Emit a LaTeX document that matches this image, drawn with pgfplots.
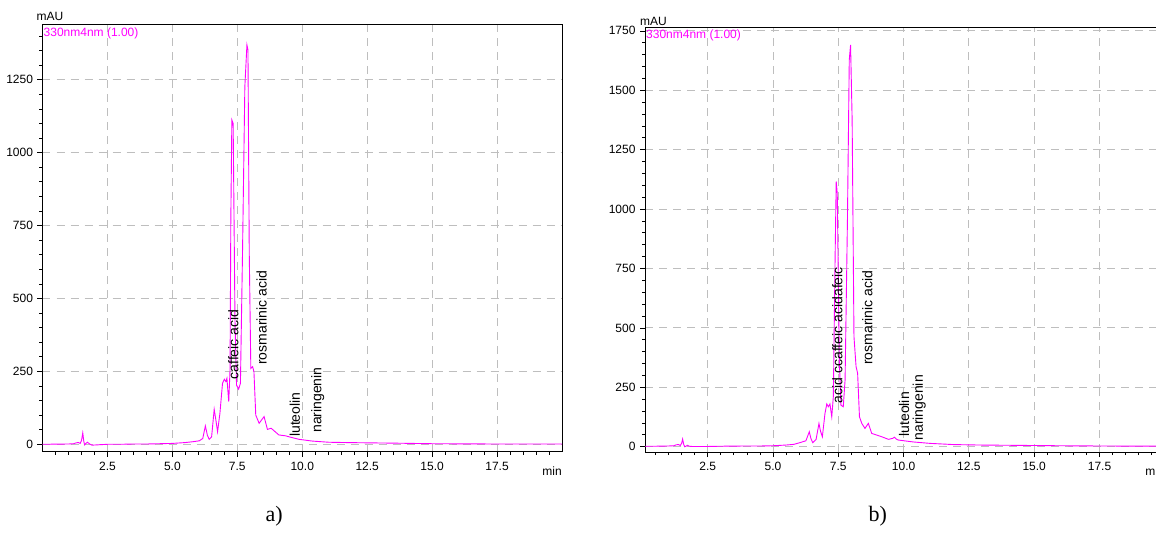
\documentclass[border=0pt]{standalone}
\usepackage{fontspec}
\setmainfont{Liberation Sans}
\newfontfamily\seriffont{Liberation Serif}
\usepackage{pgfplots}
\pgfplotsset{compat=1.18}

\definecolor{trace}{HTML}{FF00FF}
\definecolor{gridgray}{HTML}{BEBEBE}

\pgfplotsset{
  chrom/.style={
    scale only axis,
    clip=false,
    xmax=20,
    axis line style={black, line width=0.9pt},
    xtick={2.5,5,...,17.5},
    minor xtick={0.5,1,...,19.5},
    tick align=outside,
    major tick length=5pt,
    minor tick length=3pt,
    tick style={black, line width=0.7pt},
    xtick pos=bottom,
    ytick pos=left,
    xmajorgrids=true,
    ymajorgrids=true,
    major grid style={gridgray, line width=0.9pt, dash pattern=on 8pt off 6pt},
    ticklabel style={font=\fontsize{12}{12}\selectfont},
    /pgf/number format/assume math mode=true,
    /pgf/number format/1000 sep={},
    xticklabel style={yshift=-2pt, /pgf/number format/fixed,
      /pgf/number format/fixed zerofill, /pgf/number format/precision=1},
    yticklabel style={xshift=-1pt},
  },
}
\tikzset{annot/.style={rotate=90, anchor=west, inner sep=0pt, font=\fontsize{14}{14}\selectfont}}

\begin{document}
\begin{tikzpicture}[x=1pt,y=1pt]
\path[use as bounding box] (0,0) rectangle (1156,552);

% a) ------------------------------------------------------------
\begin{axis}[chrom,
  at={(42.5pt,100.3pt)}, anchor=south west,
  width=519.5pt, height=427.4pt,
  xmin=0, ymin=-25.4, ymax=1440,
  ytick={0,250,...,1250},
  minor ytick={50,100,...,1400},
]
\addplot[trace, line width=0.9pt] coordinates {
(0,0) (0.5,0.5) (1.0,1) (1.2,2) (1.3,5) (1.38,6) (1.45,3) (1.5,12) (1.55,39)
(1.59,10) (1.62,-2) (1.67,3) (1.73,7) (1.8,2) (1.9,-3) (2.1,-2) (2.5,0)
(3.0,0) (3.5,1) (4.0,1) (4.5,2) (5.0,3) (5.5,6) (5.8,9) (6.04,12) (6.17,20)
(6.27,63) (6.35,30) (6.42,17) (6.51,25) (6.61,120) (6.68,80) (6.74,43)
(6.83,106) (6.93,209) (7.0,223) (7.06,215) (7.1,226) (7.17,146) (7.22,255)
(7.25,769) (7.29,1112) (7.34,1100) (7.41,426) (7.47,203) (7.55,189)
(7.62,209) (7.70,655) (7.79,1226) (7.87,1369) (7.91,1352) (7.96,655)
(8.02,260) (8.09,266) (8.14,249) (8.21,100) (8.34,72) (8.53,95) (8.66,51)
(8.80,55) (8.88,49) (9.1,32) (9.36,29) (9.56,24) (9.88,17) (10.39,11)
(11.03,7) (11.67,6) (12.5,5) (13.5,4) (15,2) (17.5,1) (20,1)
};
\node[annot] at (axis cs:7.35,222) {caffeic acid};
\node[annot] at (axis cs:8.44,272) {rosmarinic acid};
\node[annot] at (axis cs:9.72,25) {luteolin};
\node[annot] at (axis cs:10.6,39) {naringenin};
\node[anchor=south west, inner sep=0pt, font=\fontsize{12}{12}\selectfont]
  at (rel axis cs:0,1) [xshift=-6pt, yshift=3pt] {mAU};
\node[anchor=north west, inner sep=0pt, text=trace, font=\fontsize{12}{12}\selectfont]
  at (rel axis cs:0,1) [xshift=1pt, yshift=-3pt] {330nm4nm (1.00)};
\node[anchor=north east, inner sep=0pt, font=\fontsize{12}{12}\selectfont]
  at (rel axis cs:1,0) [yshift=-14.5pt] {min};
\node[font=\seriffont\fontsize{22}{22}\selectfont] at (axis description cs:0.446,-0.150) {a)};
\end{axis}

% b) ------------------------------------------------------------
\begin{axis}[chrom,
  at={(645pt,100pt)}, anchor=south west,
  width=519.8pt, height=424.7pt,
  xmin=0.1, ymin=-22.3, ymax=1765,
  ytick={0,250,...,1750},
  minor ytick={50,100,...,1750},
]
\addplot[trace, line width=0.9pt] coordinates {
(0.1,2) (0.5,2) (1.0,3) (1.2,4) (1.3,8) (1.38,9) (1.45,5) (1.5,14) (1.54,32)
(1.58,10) (1.62,0) (1.67,2) (1.72,6) (1.8,2) (1.9,1) (2.5,1) (3.0,2) (4.0,3)
(4.5,3) (5.0,4) (5.5,7) (5.8,10) (6.03,17) (6.26,25) (6.39,63) (6.45,35)
(6.52,17) (6.65,31) (6.76,98) (6.82,65) (6.89,42) (6.99,140) (7.06,180)
(7.12,168) (7.18,180) (7.25,126) (7.31,211) (7.38,814) (7.42,1116)
(7.46,1066) (7.54,365) (7.60,175) (7.69,168) (7.76,281) (7.85,954)
(7.92,1628) (7.97,1691) (8.03,1375) (8.10,463) (8.18,337) (8.24,309)
(8.31,126) (8.40,98) (8.52,77) (8.65,98) (8.78,56) (8.97,49) (9.16,42)
(9.42,31) (9.58,35) (9.65,40) (9.72,32) (9.80,28) (10.37,20) (11.01,14)
(11.91,9) (12.93,7) (14,6) (15,5) (16,4) (17.5,3) (20,2)
};
\node[annot] at (axis cs:7.46,183) {acid ccaffeic acidafeic};
\node[annot] at (axis cs:8.61,344) {rosmarinic acid};
\node[annot] at (axis cs:10.02,42) {luteolin};
\node[annot] at (axis cs:10.6,25) {naringenin};
\node[anchor=south west, inner sep=0pt, font=\fontsize{12}{12}\selectfont]
  at (rel axis cs:0,1) [xshift=-5pt, yshift=1pt] {mAU};
\node[anchor=north west, inner sep=0pt, text=trace, font=\fontsize{12}{12}\selectfont]
  at (rel axis cs:0,1) [xshift=1pt, yshift=-2pt] {330nm4nm (1.00)};
\node[anchor=north east, inner sep=0pt, font=\fontsize{12}{12}\selectfont]
  at (rel axis cs:1,0) [yshift=-14.5pt] {min};
\node[font=\seriffont\fontsize{22}{22}\selectfont] at (axis description cs:0.448,-0.151) {b)};
\end{axis}
\end{tikzpicture}
\end{document}
